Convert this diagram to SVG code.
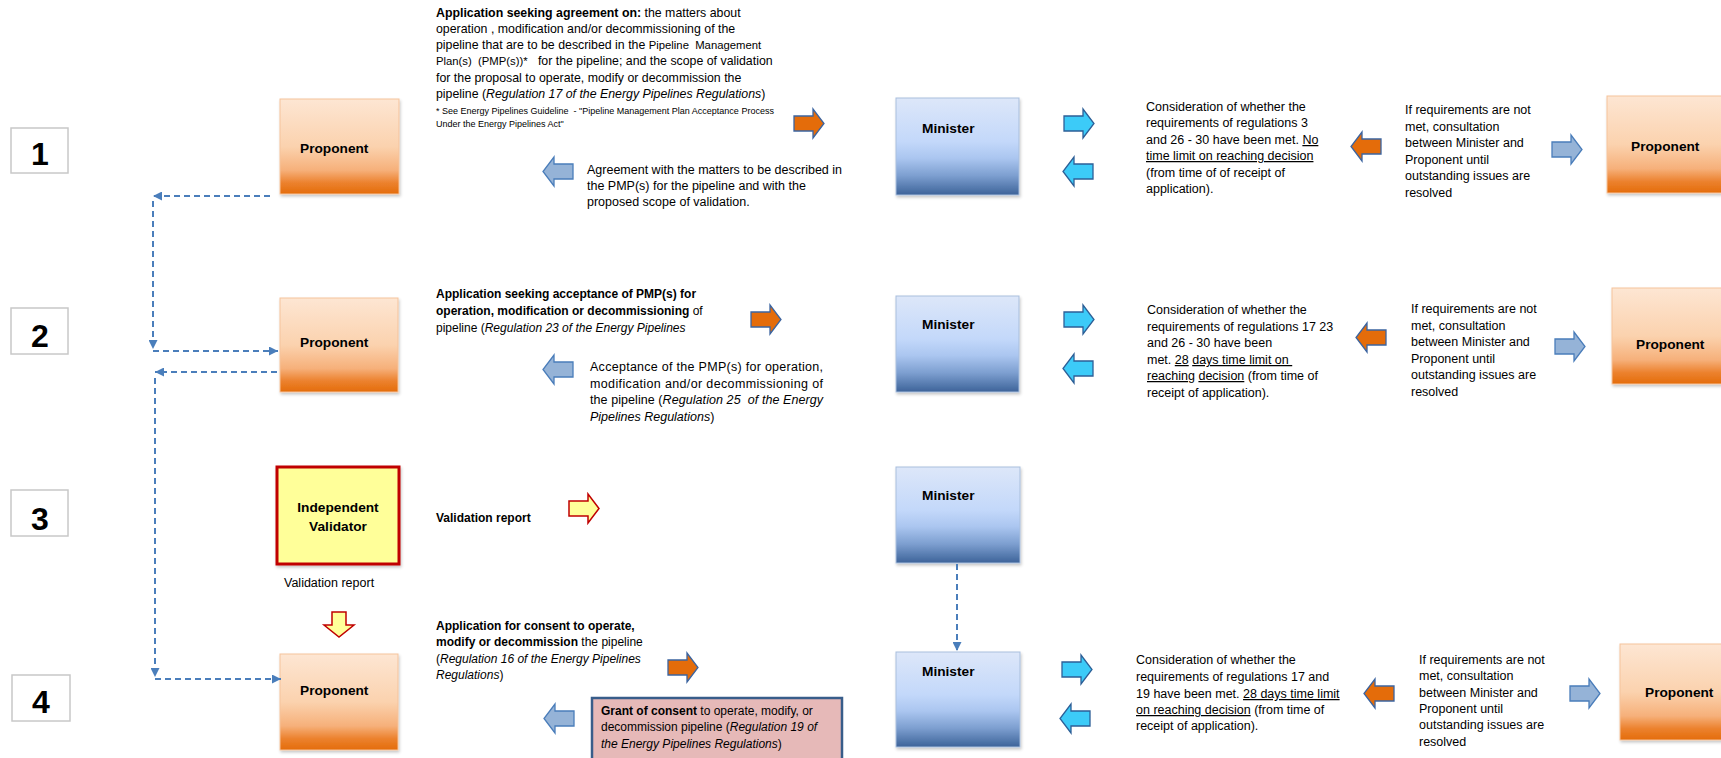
<svg xmlns="http://www.w3.org/2000/svg" xmlns:xlink="http://www.w3.org/1999/xlink" width="1721" height="758" viewBox="0 0 1721 758">
<defs>
  <linearGradient id="gProp" x1="0" y1="0" x2="0" y2="1">
    <stop offset="0" stop-color="#FDE6D3"/>
    <stop offset="0.5" stop-color="#FBD2AE"/>
    <stop offset="0.75" stop-color="#F6B07A"/>
    <stop offset="0.88" stop-color="#EC822F"/>
    <stop offset="1" stop-color="#E46C0A"/>
  </linearGradient>
  <linearGradient id="gMin" x1="0" y1="0" x2="0" y2="1">
    <stop offset="0" stop-color="#DDE7F9"/>
    <stop offset="0.45" stop-color="#C3D8FA"/>
    <stop offset="0.62" stop-color="#ABC6F0"/>
    <stop offset="0.8" stop-color="#7D9FD0"/>
    <stop offset="1" stop-color="#3D6399"/>
  </linearGradient>
  <filter id="sh" x="-10%" y="-10%" width="125%" height="125%">
    <feDropShadow dx="1" dy="2" stdDeviation="1.5" flood-color="#000" flood-opacity="0.22"/>
  </filter>
  <marker id="ah" viewBox="0 0 10 10" refX="10" refY="5" markerWidth="9" markerHeight="9" markerUnits="userSpaceOnUse" orient="auto">
    <path d="M0,0 L10,5 L0,10 Z" fill="#4A7EBB"/>
  </marker>
  <path id="ar" d="M0,7 H19 V0 L30,14.5 L19,29 V22 H0 Z"/>
  <path id="al" d="M30,7 H11 V0 L0,14.5 L11,29 V22 H30 Z"/>
  <path id="ad" d="M8,0 V13 H0 L15,25 L30,13 H22 V0 Z"/>
</defs>
<style>
  text{font-family:"Liberation Sans",Arial,sans-serif;fill:#000}
  .t{font-size:12.5px}
  .s12{font-size:12px}
  .s123{font-size:12.35px;white-space:pre}
  .s11{font-size:11.3px}
  .fn{font-size:9px;white-space:pre}
  .b{font-weight:bold}
  .i{font-style:italic}
  .u{text-decoration:underline}
  .pre{white-space:pre}
  .lbl{font-size:13.7px;font-weight:bold}
  .num{font-size:32px;font-weight:bold;text-anchor:middle}
  .numbox{fill:#fff;stroke:#C8C8C8;stroke-width:1.5}
  .prop{fill:url(#gProp);stroke:#F5C39C;stroke-width:1;filter:url(#sh)}
  .min{fill:url(#gMin);stroke:#A9BFDD;stroke-width:1;filter:url(#sh)}
  .iv{fill:#FFFF99;stroke:#C00000;stroke-width:3;filter:url(#sh)}
  .pink{fill:#E6B9B8;stroke:#385D8A;stroke-width:2.5}
  .orange{fill:#E46C0A;stroke:#3B64A0;stroke-width:1.3}
  .steel{fill:#95B3D7;stroke:#4A7DBA;stroke-width:1.3}
  .cyan{fill:#3CCBF8;stroke:#2D5F97;stroke-width:1.3}
  .yel{fill:#FFFF99;stroke:#C00000;stroke-width:1.5}
  .dash{fill:none;stroke:#4A7EBB;stroke-width:2;stroke-dasharray:6 4;marker-end:url(#ah)}
</style>

<!-- step numbers -->
<g id="step1"><rect class="numbox" x="11" y="128" width="57" height="45"/><text class="num" x="40" y="165">1</text></g>
<g id="step2"><rect class="numbox" x="11" y="308" width="57" height="46"/><text class="num" x="40" y="347">2</text></g>
<g id="step3"><rect class="numbox" x="11" y="490" width="57" height="46"/><text class="num" x="40" y="530">3</text></g>
<g id="step4"><rect class="numbox" x="12" y="675" width="58" height="46"/><text class="num" x="41" y="713">4</text></g>

<!-- nodes -->
<g id="proponent1"><rect class="prop" x="280" y="99" width="119" height="95"/><text class="lbl" x="300" y="153">Proponent</text></g>
<g id="proponent2"><rect class="prop" x="280" y="298" width="118" height="94"/><text class="lbl" x="300" y="347">Proponent</text></g>
<g id="validator"><rect class="iv" x="277" y="467" width="122" height="97"/><text class="lbl" x="338" y="512" text-anchor="middle">Independent</text><text class="lbl" x="338" y="531" text-anchor="middle">Validator</text></g>
<g id="proponent4"><rect class="prop" x="280" y="654" width="118" height="96"/><text class="lbl" x="300" y="695">Proponent</text></g>

<g id="minister1"><rect class="min" x="896" y="98" width="123" height="97"/><text class="lbl" x="922" y="133">Minister</text></g>
<g id="minister2"><rect class="min" x="896" y="296" width="123" height="96"/><text class="lbl" x="922" y="329">Minister</text></g>
<g id="minister3"><rect class="min" x="896" y="467" width="124" height="96"/><text class="lbl" x="922" y="500">Minister</text></g>
<g id="minister4"><rect class="min" x="896" y="652" width="124" height="95"/><text class="lbl" x="922" y="676">Minister</text></g>

<g id="proponentR1"><rect class="prop" x="1607" y="96" width="125" height="97"/><text class="lbl" x="1631" y="151">Proponent</text></g>
<g id="proponentR2"><rect class="prop" x="1612" y="288" width="125" height="96"/><text class="lbl" x="1636" y="349">Proponent</text></g>
<g id="proponentR4"><rect class="prop" x="1620" y="644" width="125" height="96"/><text class="lbl" x="1645" y="697">Proponent</text></g>

<g id="grant"><rect class="pink" x="592" y="698" width="250" height="75"/>
  <text class="s12" x="601" y="715"><tspan class="b">Grant of consent</tspan> to operate, modify, or</text>
  <text class="s12" x="601" y="731">decommission pipeline (<tspan class="i">Regulation 19 of</tspan></text>
  <text class="s12" x="601" y="748"><tspan class="i">the Energy Pipelines Regulations</tspan>)</text>
</g>

<!-- text blocks -->
<g id="text-row1">
  <text class="s123" x="436" y="17"><tspan class="b">Application seeking agreement on:</tspan> the matters about</text>
  <text class="s123" x="436" y="33">operation , modification and/or decommissioning of the</text>
  <text class="s123" x="436" y="49">pipeline that are to be described in the <tspan class="s11">Pipeline  Management</tspan></text>
  <text class="s123" x="436" y="65"><tspan class="s11">Plan(s)  (PMP(s))*</tspan>   for the pipeline; and the scope of validation</text>
  <text class="s123" x="436" y="82">for the proposal to operate, modify or decommission the</text>
  <text class="s123" x="436" y="98">pipeline (<tspan class="i">Regulation 17 of the Energy Pipelines Regulations</tspan>)</text>
  <text class="fn" x="436" y="114">* See Energy Pipelines Guideline  - "Pipeline Management Plan Acceptance Process</text>
  <text class="fn" x="436" y="127">Under the Energy Pipelines Act"</text>
  <text class="t" x="587" y="174">Agreement with the matters to be described in</text>
  <text class="t" x="587" y="190">the PMP(s) for the pipeline and with the</text>
  <text class="t" x="587" y="206">proposed scope of validation.</text>
  <text class="t" x="1146" y="111">Consideration of whether the</text>
  <text class="t" x="1146" y="127">requirements of regulations 3</text>
  <text class="t" x="1146" y="144">and 26 - 30 have been met. <tspan class="u">No</tspan></text>
  <text class="t" x="1146" y="160"><tspan class="u">time limit on reaching decision</tspan></text>
  <text class="t" x="1146" y="177">(from time of of receipt of</text>
  <text class="t" x="1146" y="193">application).</text>
  <text class="t" x="1405" y="114">If requirements are not</text>
  <text class="t" x="1405" y="131">met, consultation</text>
  <text class="t" x="1405" y="147">between Minister and</text>
  <text class="t" x="1405" y="164">Proponent until</text>
  <text class="t" x="1405" y="180">outstanding issues are</text>
  <text class="t" x="1405" y="197">resolved</text>
</g>

<g id="text-row2">
  <text class="s12 b" x="436" y="298">Application seeking acceptance of PMP(s) for</text>
  <text class="s12" x="436" y="315"><tspan class="b">operation, modification or decommissioning</tspan> of</text>
  <text class="s12" x="436" y="332">pipeline (<tspan class="i">Regulation 23 of the Energy Pipelines</tspan></text>
  <text class="t" x="590" y="371" textLength="233" lengthAdjust="spacing">Acceptance of the PMP(s) for operation,</text>
  <text class="t" x="590" y="388" textLength="233" lengthAdjust="spacing">modification and/or decommissioning of</text>
  <text class="t pre" x="590" y="404" textLength="233" lengthAdjust="spacing">the pipeline (<tspan class="i">Regulation 25  of the Energy</tspan></text>
  <text class="t" x="590" y="421"><tspan class="i">Pipelines Regulations</tspan>)</text>
  <text class="t" x="1147" y="314">Consideration of whether the</text>
  <text class="t" x="1147" y="331">requirements of regulations 17 23</text>
  <text class="t" x="1147" y="347">and 26 - 30 have been</text>
  <text class="t pre" x="1147" y="364">met. <tspan class="u">28</tspan> <tspan class="u">days time limit on </tspan></text>
  <text class="t" x="1147" y="380"><tspan class="u">reaching</tspan> <tspan class="u">decision</tspan> (from time of</text>
  <text class="t" x="1147" y="397">receipt of application).</text>
  <text class="t" x="1411" y="313">If requirements are not</text>
  <text class="t" x="1411" y="330">met, consultation</text>
  <text class="t" x="1411" y="346">between Minister and</text>
  <text class="t" x="1411" y="363">Proponent until</text>
  <text class="t" x="1411" y="379">outstanding issues are</text>
  <text class="t" x="1411" y="396">resolved</text>
</g>

<g id="text-row3">
  <text class="s12 b" x="436" y="522">Validation report</text>
  <text class="t" x="284" y="587">Validation report</text>
</g>

<g id="text-row4">
  <text class="s12 b" x="436" y="630">Application for consent to operate,</text>
  <text class="s12" x="436" y="646"><tspan class="b">modify or decommission</tspan> the pipeline</text>
  <text class="s12" x="436" y="663">(<tspan class="i">Regulation 16 of the Energy Pipelines</tspan></text>
  <text class="s12" x="436" y="679"><tspan class="i">Regulations</tspan>)</text>
  <text class="t" x="1136" y="664">Consideration of whether the</text>
  <text class="t" x="1136" y="681">requirements of regulations 17 and</text>
  <text class="t" x="1136" y="698">19 have been met. <tspan class="u">28 days time limit</tspan></text>
  <text class="t" x="1136" y="714"><tspan class="u">on reaching decision</tspan> (from time of</text>
  <text class="t" x="1136" y="730">receipt of application).</text>
  <text class="t" x="1419" y="664">If requirements are not</text>
  <text class="t" x="1419" y="680">met, consultation</text>
  <text class="t" x="1419" y="697">between Minister and</text>
  <text class="t" x="1419" y="713">Proponent until</text>
  <text class="t" x="1419" y="729">outstanding issues are</text>
  <text class="t" x="1419" y="746">resolved</text>
</g>

<!-- connectors -->
<g id="connectors">
  <path class="dash" d="M270,196 H153"/>
  <path class="dash" d="M153,201 V349"/>
  <path class="dash" d="M153,351 H278"/>
  <path class="dash" d="M277,372 H155"/>
  <path class="dash" d="M155,378 V677"/>
  <path class="dash" d="M155,679 H281"/>
  <path class="dash" d="M957,564 V651"/>

  <use href="#ar" class="orange" x="794" y="109"/>
  <use href="#al" class="steel" x="543" y="157"/>
  <use href="#ar" class="cyan" x="1064" y="109"/>
  <use href="#al" class="cyan" x="1063" y="157"/>
  <use href="#al" class="orange" x="1351" y="132"/>
  <use href="#ar" class="steel" x="1552" y="135"/>

  <use href="#ar" class="orange" x="751" y="305"/>
  <use href="#al" class="steel" x="543" y="355"/>
  <use href="#ar" class="cyan" x="1064" y="305"/>
  <use href="#al" class="cyan" x="1063" y="354"/>
  <use href="#al" class="orange" x="1356" y="323"/>
  <use href="#ar" class="steel" x="1555" y="332"/>

  <use href="#ar" class="yel" x="569" y="494"/>
  <use href="#ad" class="yel" x="324" y="612"/>

  <use href="#ar" class="orange" x="668" y="653"/>
  <use href="#al" class="steel" x="544" y="704"/>
  <use href="#ar" class="cyan" x="1062" y="655"/>
  <use href="#al" class="cyan" x="1060" y="704"/>
  <use href="#al" class="orange" x="1364" y="679"/>
  <use href="#ar" class="steel" x="1570" y="679"/>
</g>
</svg>
